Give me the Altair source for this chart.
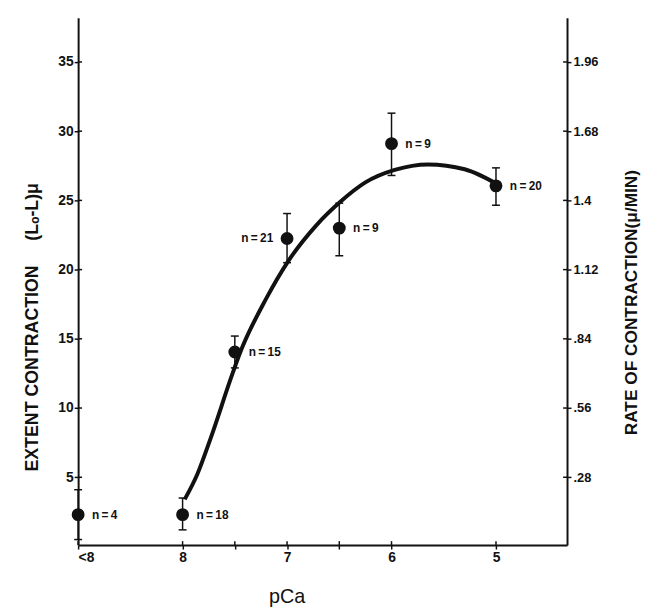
import altair as alt
import pandas as pd

# ---- data ----
pca = [9.0, 8.0, 7.5, 7.0, 6.5, 6.0, 5.0]          # 9.0 is drawn as "<8"
extent = [2.3, 2.3, 14.05, 22.25, 23.0, 29.1, 26.05]
err_hi = [4.1, 3.5, 15.2, 24.05, 24.8, 31.3, 27.35]
err_lo = [0.5, 1.2, 12.9, 20.5, 21.0, 26.8, 24.65]
n_text = ["n\u2009=\u20094", "n\u2009=\u200918", "n\u2009=\u200915", "n\u2009=\u200921",
          "n\u2009=\u20099", "n\u2009=\u20099", "n\u2009=\u200920"]
label_side = ["right", "right", "right", "left", "right", "right", "right"]

curve_pca = [7.98, 7.86, 7.73, 7.54, 7.46, 7.20, 6.99, 6.72, 6.49, 6.25, 5.97, 5.65, 5.30, 4.97]
curve_val = [3.4, 5.2, 7.85, 12.1, 13.8, 17.9, 20.6, 23.2, 24.9, 26.3, 27.2, 27.6, 27.25, 26.1]

x_ticks = [9.0, 8.0, 7.5, 7.0, 6.5, 6.0, 5.0]
left_ticks = [5, 10, 15, 20, 25, 30, 35]
right_ticks = [0.28, 0.56, 0.84, 1.12, 1.4, 1.68, 1.96]
RATE_PER_MICRON = 0.056

X_DOMAIN = [4.32, 9.0]
Y_DOMAIN = [0.1, 38.2]
W, H = 495, 534
INK = "#111111"
FONT = "Liberation Sans"
NB = "\u00a0"

pts = pd.DataFrame({"pca": pca, "ext": extent, "hi": err_hi, "lo": err_lo,
                    "n": n_text, "side": label_side})
curve = pd.DataFrame({"pca": curve_pca, "ext": curve_val, "idx": list(range(len(curve_pca)))})
lt = pd.DataFrame({"v": left_ticks})
xt = pd.DataFrame({"t": x_ticks})
rt = pd.DataFrame({"r": right_ticks})

xs = alt.Scale(domain=X_DOMAIN, reverse=True, nice=False, zero=False)
ys = alt.Scale(domain=Y_DOMAIN, nice=False, zero=False)
rs = alt.Scale(domain=[v * RATE_PER_MICRON for v in Y_DOMAIN], nice=False, zero=False)

x_axis = alt.Axis(
    values=x_ticks,
    labelExpr="datum.value == 9 ? '<8' : ((datum.value == 7.5 || datum.value == 6.5) ? '' : toString(datum.value))",
    title="pCa", grid=False, domainWidth=2, domainColor=INK,
    tickSize=4, tickWidth=1.5, tickColor=INK,
    labelFont=FONT, labelFontSize=14, labelFontWeight="bold", labelColor=INK, labelPadding=2,
    titleFont=FONT, titleFontSize=20, titleFontWeight="normal", titleColor=INK,
    titleX=211, titleY=58, titleBaseline="alphabetic", titleAlign="center",
)
y_axis = alt.Axis(
    orient="left", values=left_ticks, format="d",
    title="EXTENT CONTRACTION" + NB * 5 + "(L\u2092-L)\u03bc", grid=False,
    domainWidth=2, domainColor=INK, tickSize=4, tickWidth=1.5, tickColor=INK,
    labelFont=FONT, labelFontSize=14, labelFontWeight="bold", labelColor=INK, labelPadding=1,
    titleFont=FONT, titleFontSize=18, titleFontWeight="bold", titleColor=INK,
    titleAngle=270, titleX=-46, titleY=313, titleAlign="center", titleBaseline="middle",
)
r_axis = alt.Axis(
    orient="right", values=right_ticks,
    labelExpr="datum.value < 1 ? replace(format(datum.value, '.2f'), '0.', '.') : format(datum.value, '.2~f')",
    title="RATE OF CONTRACTION(\u03bc/MIN)", grid=False,
    domainWidth=2, domainColor=INK, tickSize=4, tickWidth=1.5, tickColor=INK,
    labelFont=FONT, labelFontSize=13, labelFontWeight="bold", labelColor=INK, labelPadding=2,
    titleFont=FONT, titleFontSize=17.5, titleFontWeight="bold", titleColor=INK,
    titleAngle=270, titleX=65, titleY=288, titleAlign="center", titleBaseline="middle",
)

X = alt.X("pca:Q", scale=xs, axis=x_axis)

def Y(field):
    return alt.Y(field, scale=ys, axis=y_axis)

err = alt.Chart(pts).mark_rule(strokeWidth=1.5, color=INK).encode(x=X, y=Y("lo:Q"), y2="hi:Q")
cap_hi = alt.Chart(pts).mark_tick(orient="horizontal", size=8, thickness=1.5, color=INK, opacity=1).encode(x=X, y=Y("hi:Q"))
cap_lo = alt.Chart(pts).mark_tick(orient="horizontal", size=8, thickness=1.5, color=INK, opacity=1).encode(x=X, y=Y("lo:Q"))
line = alt.Chart(curve).mark_line(strokeWidth=4, color=INK, interpolate="monotone").encode(
    x=X, y=Y("ext:Q"), order="idx:Q")
dots = alt.Chart(pts).mark_circle(size=170, opacity=1, color=INK).encode(x=X, y=Y("ext:Q"))
lab_r = alt.Chart(pts).transform_filter("datum.side == 'right'").mark_text(
    align="left", baseline="middle", dx=14, font=FONT, fontSize=12, fontWeight="bold", color=INK
).encode(x=X, y=Y("ext:Q"), text="n:N")
lab_l = alt.Chart(pts).transform_filter("datum.side == 'left'").mark_text(
    align="right", baseline="middle", dx=-14, font=FONT, fontSize=12, fontWeight="bold", color=INK
).encode(x=X, y=Y("ext:Q"), text="n:N")

in_left = alt.Chart(lt).mark_rule(strokeWidth=1.5, color=INK).encode(
    y=Y("v:Q"), x=alt.value(0), x2=alt.value(4))
in_bottom = alt.Chart(xt).mark_rule(strokeWidth=1.5, color=INK).encode(
    x=alt.X("t:Q", scale=xs, axis=x_axis), y=alt.value(H - 4), y2=alt.value(H))

left = alt.layer(err, cap_hi, cap_lo, line, dots, lab_r, lab_l, in_left, in_bottom)

right = alt.Chart(rt).mark_rule(strokeWidth=1.5, color=INK).encode(
    y=alt.Y("r:Q", scale=rs, axis=r_axis), x=alt.value(W - 4), x2=alt.value(W))

chart = alt.layer(left, right).resolve_scale(y="independent").properties(
    width=W, height=H,
    padding={"left": 71, "top": 6, "right": 83, "bottom": 67},
    autosize=alt.AutoSizeParams(type="none"),
    background="white",
).configure_view(strokeWidth=0)

chart.save("out.html", embed_options={"renderer": "svg", "actions": False})
